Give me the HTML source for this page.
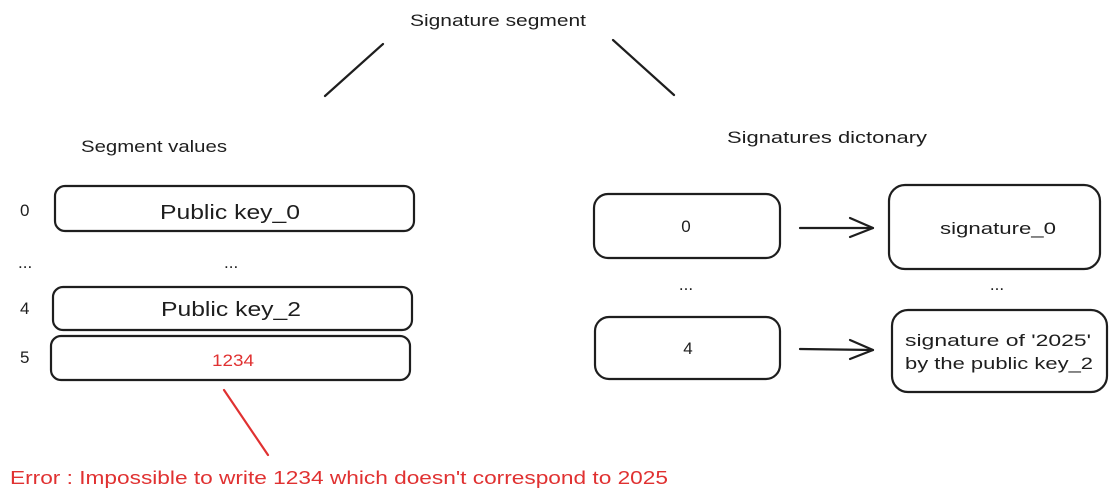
<!DOCTYPE html>
<html><head><meta charset="utf-8"><style>
html,body{margin:0;padding:0;background:#fff;}
svg{display:block;}
text{font-family:"Liberation Sans",sans-serif;fill:#1e1e1e;}
</style></head><body>
<svg width="1116" height="501" viewBox="0 0 1116 501" xmlns="http://www.w3.org/2000/svg">
<g stroke="#1e1e1e" stroke-width="2.2" fill="none" stroke-linecap="round" stroke-linejoin="round">
<line x1="383" y1="44" x2="325" y2="96"/>
<line x1="613" y1="40" x2="674" y2="95"/>
<rect x="55" y="186" width="359" height="45" rx="10"/>
<rect x="53" y="287" width="359" height="43" rx="10"/>
<rect x="51" y="336" width="359" height="44" rx="10"/>
<rect x="594" y="194" width="186" height="64" rx="14"/>
<rect x="889" y="185" width="211" height="84" rx="16"/>
<rect x="595" y="317" width="185" height="62" rx="14"/>
<rect x="892" y="310" width="215" height="82" rx="16"/>
<line x1="800" y1="228" x2="873" y2="228"/>
<polyline points="850,218 873,228 850,237"/>
<line x1="800" y1="349" x2="873" y2="350"/>
<polyline points="850,340 873,350 850,359"/>
</g>
<line x1="224" y1="390" x2="268" y2="455" stroke="#e03131" stroke-width="2.2" stroke-linecap="round"/>
<text x="410" y="26" font-size="17" textLength="176" lengthAdjust="spacingAndGlyphs">Signature segment</text>
<text x="81" y="152" font-size="17" textLength="146" lengthAdjust="spacingAndGlyphs">Segment values</text>
<text x="727" y="143" font-size="17" textLength="200" lengthAdjust="spacingAndGlyphs">Signatures dictonary</text>
<text x="160" y="219" font-size="20" textLength="140" lengthAdjust="spacingAndGlyphs">Public key_0</text>
<text x="161" y="316" font-size="20" textLength="140" lengthAdjust="spacingAndGlyphs">Public key_2</text>
<text x="212" y="366" font-size="17" textLength="42" lengthAdjust="spacingAndGlyphs" style="fill:#e03131">1234</text>
<text x="20" y="216" font-size="17">0</text>
<text x="18" y="268" font-size="17">...</text>
<text x="224" y="268" font-size="17">...</text>
<text x="20" y="314" font-size="17">4</text>
<text x="20" y="363" font-size="17">5</text>
<text x="686" y="232" font-size="17" text-anchor="middle">0</text>
<text x="688" y="354" font-size="17" text-anchor="middle">4</text>
<text x="686" y="290" font-size="17" text-anchor="middle">...</text>
<text x="997" y="290" font-size="17" text-anchor="middle">...</text>
<text x="940" y="234" font-size="17" textLength="116" lengthAdjust="spacingAndGlyphs">signature_0</text>
<text x="905" y="346" font-size="17" textLength="186" lengthAdjust="spacingAndGlyphs">signature of '2025'</text>
<text x="905" y="369" font-size="17" textLength="188" lengthAdjust="spacingAndGlyphs">by the public key_2</text>
<text x="10" y="484" font-size="18" textLength="658" lengthAdjust="spacingAndGlyphs" style="fill:#e03131">Error : Impossible to write 1234 which doesn't correspond to 2025</text>
</svg>
</body></html>
